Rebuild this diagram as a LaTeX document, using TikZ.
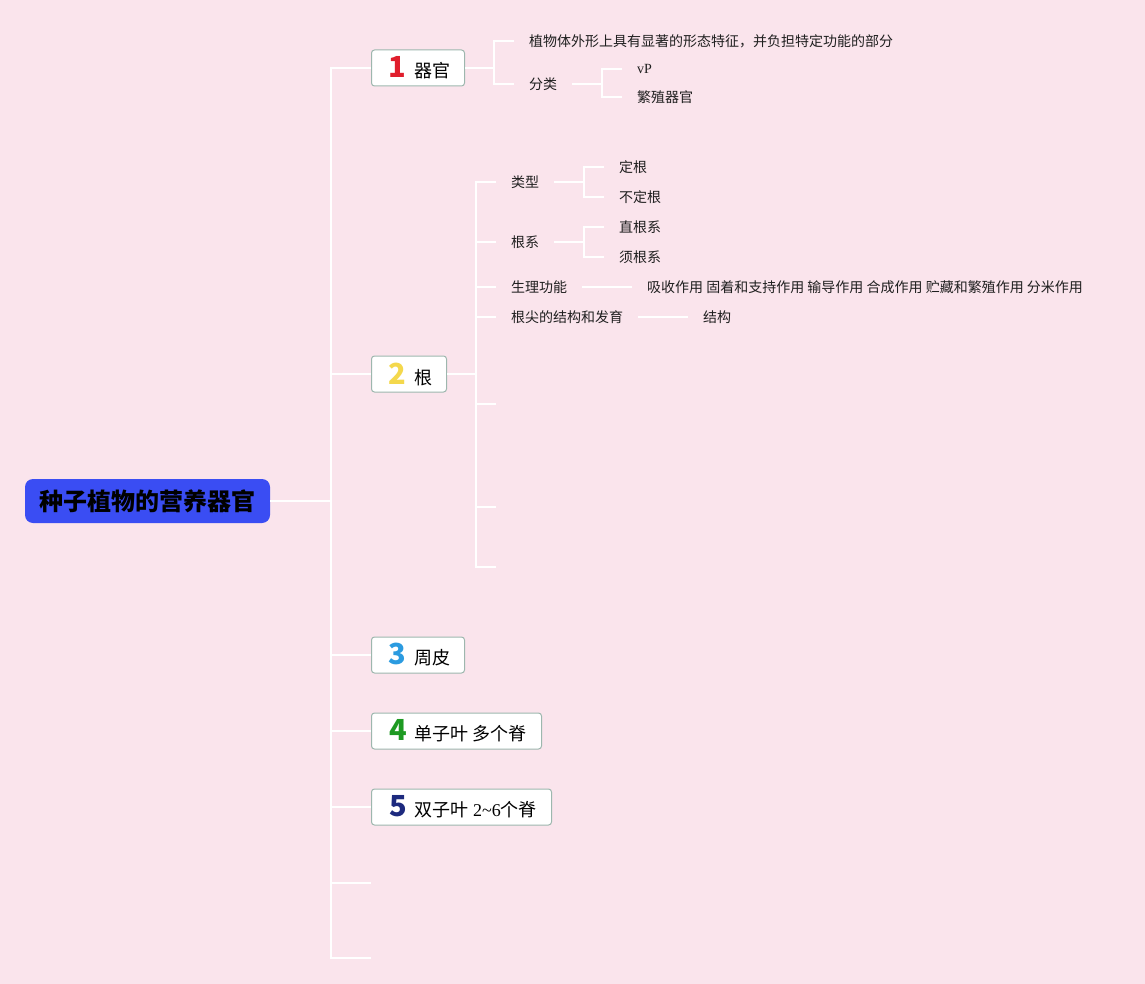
\documentclass[tikz,border=0pt]{standalone}
\usepackage{fontspec}
\setmainfont{Liberation Serif}
\newfontfamily\cjk{Noto Sans CJK SC}
\definecolor{bgpink}{HTML}{FAE4EC}
\definecolor{rootblue}{HTML}{3A4DF3}
\definecolor{boxborder}{HTML}{9DB7AE}
\definecolor{numa}{HTML}{E01E2C}
\definecolor{numb}{HTML}{F4D84C}
\definecolor{numc}{HTML}{2B9BE0}
\definecolor{numd}{HTML}{1E9A22}
\definecolor{nume}{HTML}{1D2A7E}
\newcommand{\numf}{\cjk\bfseries\fontsize{29}{29}\selectfont}
\begin{document}
\begin{tikzpicture}[x=1pt,y=-1pt,
  conn/.style={draw=white,line width=1.8pt},
  leaf/.style={anchor=west,inner sep=0pt,font=\cjk\fontsize{14}{16}\selectfont,text=black!88},
  topic/.style={draw=boxborder,fill=white,rounded corners=3pt,line width=1pt,
    minimum height=36pt,inner xsep=0pt,anchor=west,font=\cjk\fontsize{18}{20}\selectfont},
  rootnode/.style={fill=rootblue,rounded corners=8pt,minimum width=245pt,minimum height=44pt,
    inner sep=0pt,font=\cjk\bfseries\fontsize{24}{26}\selectfont,text=black}]
\useasboundingbox (0,0) rectangle (1145,984);
\fill[bgpink] (0,0) rectangle (1145,984);

% root
\node[rootnode] (root) at (147.5,501) {种子植物的营养器官};
\coordinate (j0) at (331,501);

% main topics
\node[topic,minimum width=93pt] (b1) at (371,68) {\hspace{3pt}{\color{numa}\numf 1}\hspace{8pt}器官};
\node[topic,minimum width=75pt] (b2) at (371,374) {\hspace{3pt}{\color{numb}\numf 2}\hspace{8pt}根};
\node[topic,minimum width=93pt] (b3) at (371,655) {\hspace{3pt}{\color{numc}\numf 3}\hspace{8pt}周皮};
\node[topic,minimum width=170pt] (b4) at (371,731) {\hspace{3pt}{\color{numd}\numf 4}\hspace{8pt}单子叶 多个脊};
\node[topic,minimum width=180pt] (b5) at (371,807) {\hspace{3pt}{\color{nume}\numf 5}\hspace{8pt}双子叶{\rmfamily\ 2\textasciitilde6}个脊};
\coordinate (e1) at (371,883);
\coordinate (e2) at (371,958);

\draw[conn] (root.east) -- (j0);
\foreach \b in {b1,b2,b3,b4,b5} \draw[conn] (j0) |- (\b.west);
\draw[conn] (j0) |- (e1);
\draw[conn] (j0) |- (e2);

% branch 1
\coordinate (k1) at (494,68);
\node[leaf] (l11) at (529,41) {植物体外形上具有显著的形态特征，并负担特定功能的部分};
\node[leaf] (l12) at (529,84) {分类};
\coordinate (k12) at (602,84);
\node[leaf,font=\rmfamily\fontsize{14}{16}\selectfont] (l121) at (637,69) {vP};
\node[leaf] (l122) at (637,97) {繁殖器官};
\draw[conn] (b1.east) -- (k1);
\draw[conn] (k1) |- ([xshift=-15pt]l11.west);
\draw[conn] (k1) |- ([xshift=-15pt]l12.west);
\draw[conn,shorten <=15pt] (l12.east) -- (k12);
\draw[conn] (k12) |- ([xshift=-15pt]l121.west);
\draw[conn] (k12) |- ([xshift=-15pt]l122.west);

% branch 2
\coordinate (k2) at (476,374);
\node[leaf] (r1) at (511,182) {类型};
\node[leaf] (r2) at (511,242) {根系};
\node[leaf] (r3) at (511,287) {生理功能};
\node[leaf] (r4) at (511,317) {根尖的结构和发育};
\coordinate (s1) at (496,404);
\coordinate (s2) at (496,507);
\coordinate (s3) at (496,567);
\draw[conn] (b2.east) -- (k2);
\foreach \r in {r1,r2,r3,r4} \draw[conn] (k2) |- ([xshift=-15pt]\r.west);
\foreach \s in {s1,s2,s3} \draw[conn] (k2) |- (\s);

\coordinate (k21) at (584,182);
\node[leaf] (r11) at (619,167) {定根};
\node[leaf] (r12) at (619,197) {不定根};
\draw[conn,shorten <=15pt] (r1.east) -- (k21);
\draw[conn] (k21) |- ([xshift=-15pt]r11.west);
\draw[conn] (k21) |- ([xshift=-15pt]r12.west);

\coordinate (k22) at (584,242);
\node[leaf] (r21) at (619,227) {直根系};
\node[leaf] (r22) at (619,257) {须根系};
\draw[conn,shorten <=15pt] (r2.east) -- (k22);
\draw[conn] (k22) |- ([xshift=-15pt]r21.west);
\draw[conn] (k22) |- ([xshift=-15pt]r22.west);

\node[leaf] (r31) at (647,287) {吸收作用 固着和支持作用 输导作用 合成作用 贮藏和繁殖作用 分米作用};
\draw[conn,shorten <=15pt,shorten >=15pt] (r3.east) -- (r31.west);

\node[leaf] (r41) at (703,317) {结构};
\draw[conn,shorten <=15pt,shorten >=15pt] (r4.east) -- (r41.west);
\end{tikzpicture}
\end{document}
